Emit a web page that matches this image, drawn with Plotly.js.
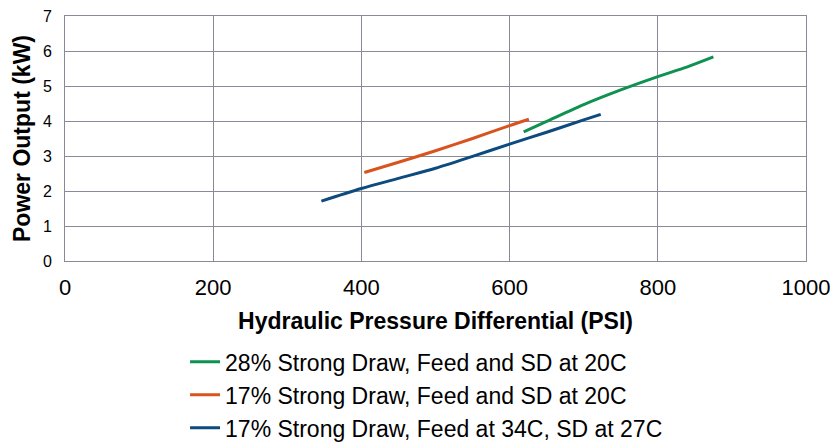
<!DOCTYPE html>
<html>
<head>
<meta charset="utf-8">
<script src="https://cdn.plot.ly/plotly-3.0.1.min.js"></script>
<style>html,body{margin:0;padding:0;background:#fff;}#chart{width:835px;height:444px;}</style>
</head>
<body>
<div id="chart"></div>
<script>
var seriesNames = [
  "28% Strong Draw, Feed and SD at 20C",
  "17% Strong Draw, Feed and SD at 20C",
  "17% Strong Draw, Feed at 34C, SD at 27C"
];
var green_x = [619, 650, 700, 750, 800, 839, 875];
var green_y = [3.69, 3.99, 4.47, 4.89, 5.27, 5.54, 5.83];
var orange_x = [404, 450, 500, 550, 600, 626];
var orange_y = [2.53, 2.82, 3.15, 3.50, 3.87, 4.05];
var blue_x = [346, 400, 450, 500, 550, 600, 650, 700, 723];
var blue_y = [1.71, 2.07, 2.36, 2.65, 2.99, 3.34, 3.68, 4.03, 4.19];
var xTicks = [0, 200, 400, 600, 800, 1000];
var yTicks = [0, 1, 2, 3, 4, 5, 6, 7];
var colors = ["#0f9150", "#d9531e", "#0d4a7e"];

var font = "Liberation Sans, Arial, sans-serif";
var traces = [
  {x: green_x, y: green_y, name: seriesNames[0]},
  {x: orange_x, y: orange_y, name: seriesNames[1]},
  {x: blue_x, y: blue_y, name: seriesNames[2]}
].map(function(t, i){
  t.type = "scatter"; t.mode = "lines";
  t.line = {color: colors[i], width: 3, shape: "spline", smoothing: 0.8};
  return t;
});

var layout = {
  width: 835, height: 444,
  margin: {l: 65, r: 29, t: 16, b: 183, autoexpand: false},
  paper_bgcolor: "#fff", plot_bgcolor: "#fff",
  font: {family: font, color: "#000"},
  showlegend: true,
  legend: {
    x: 0.162, y: -0.324, xanchor: "left", yanchor: "top",
    orientation: "v", font: {size: 23, family: font, color: "#000"},
    tracegroupgap: 0, bgcolor: "rgba(0,0,0,0)"
  },
  xaxis: {
    range: [0, 1000], tickvals: xTicks, ticktext: xTicks.map(String),
    automargin: false,
    showgrid: true, gridcolor: "#888a96", gridwidth: 1,
    showline: true, linecolor: "#888a96", linewidth: 1, mirror: true,
    zeroline: false, ticks: "", ticklabelstandoff: 7,
    tickfont: {size: 22, family: font, color: "#000"},
    title: {text: "Hydraulic Pressure Differential (PSI)", standoff: 13,
            font: {size: 23, family: font, weight: "bold", color: "#000"}}
  },
  yaxis: {
    range: [0, 7], tickvals: yTicks, ticktext: yTicks.map(String),
    automargin: false,
    showgrid: true, gridcolor: "#888a96", gridwidth: 1,
    showline: true, linecolor: "#888a96", linewidth: 1, mirror: true,
    zeroline: false, ticks: "", ticklabelstandoff: 9,
    tickfont: {size: 16, family: font, color: "#000"},
    title: {text: "Power Output (kW)", standoff: 5,
            font: {size: 23, family: font, weight: "bold", color: "#000"}}
  }
};
Plotly.newPlot("chart", traces, layout, {staticPlot: true, displayModeBar: false});
</script>
</body>
</html>
